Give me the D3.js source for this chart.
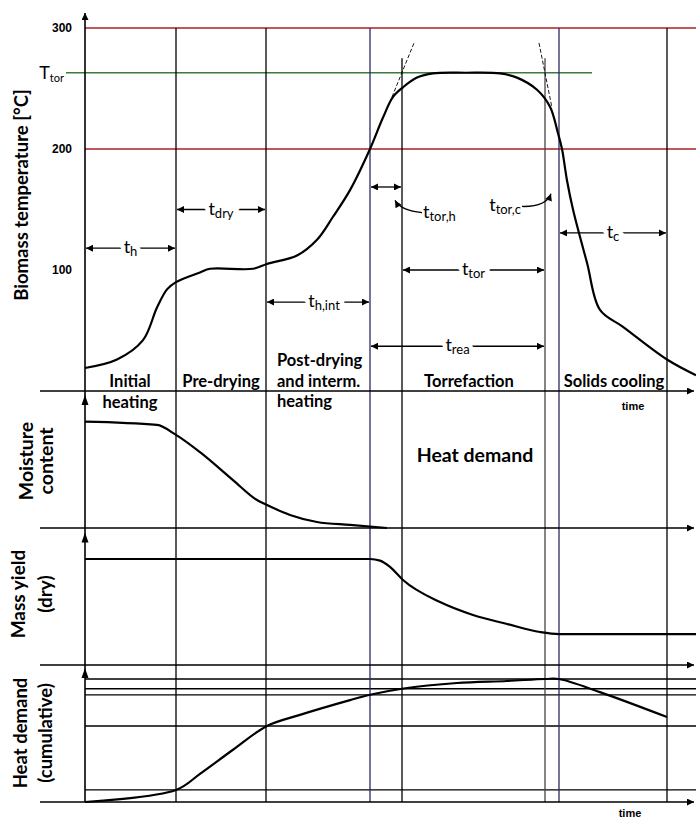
<!DOCTYPE html>
<html>
<head>
<meta charset="utf-8">
<script src="https://cdn.jsdelivr.net/npm/d3@7"></script>
<style>
body { margin: 0; background: #fff; }
text { font-family: Lato, "Open Sans", sans-serif; }
</style>
</head>
<body>
<script>
var width = 696, height = 820;

// process time, arbitrary units
var phaseBounds = [91, 181, 285, 317, 460, 474, 582];
var phaseNames = [
  {t: 45, lines: ["Initial", "heating"]},
  {t: 136, lines: ["Pre-drying"]},
  {t: 192, lines: ["Post-drying", "and interm.", "heating"], left: true},
  {t: 384, lines: ["Torrefaction"]},
  {t: 529, lines: ["Solids cooling"]}
];

// biomass temperature [°C]
var tempTime  = [0, 32, 58, 72, 82, 91, 115, 125, 168, 182, 212, 232, 248, 265, 285, 298, 308, 318, 332, 348, 381, 415, 432, 452, 465, 473, 477, 482, 488, 502, 515, 538, 582, 611];
var tempValue = [19, 26, 42, 69, 84, 90, 98, 101, 101, 105, 112, 125, 144, 166, 200, 226, 243, 251, 259, 262.5, 263, 262.5, 259, 249, 235, 213, 200, 174, 150, 106, 67, 53, 26, 13];
var tempTicks = [100, 200, 300];
var tempLimits = [200, 300];
var tTor = 263;

// moisture content
var moistTime  = [0, 72, 91, 115, 148, 172, 182, 205, 232, 265, 302];
var moistValue = [80, 77.5, 70, 57, 36, 21, 17.3, 9.8, 4.5, 2.3, 0];

// mass yield (dry)
var yieldTime  = [0, 285, 295, 305, 318, 355, 388, 422, 455, 474, 611];
var yieldValue = [100, 100, 98.5, 92.5, 80.2, 59.4, 47.2, 38.7, 31.1, 29.2, 29.2];

// heat demand (cumulative)
var heatTime  = [0, 91, 115, 148, 182, 215, 265, 285, 317, 372, 422, 460, 474, 515, 582];
var heatValue = [0, 9, 21, 39, 56.7, 65, 76, 80, 84.5, 88.8, 90.3, 91.8, 91.8, 82, 63.4];
var heatLevels = [91.8, 84.5, 80, 56.7, 9];

// time spans marked on the temperature panel
var spans = [
  {sub: "h", from: 0, to: 91, level: 118},
  {sub: "dry", from: 91, to: 181, level: 150},
  {sub: "h,int", from: 181, to: 285, level: 73.5},
  {sub: "tor,h", from: 285, to: 317, level: 168.6, bare: true},
  {sub: "c", from: 474, to: 582, level: 130.6},
  {sub: "tor", from: 317, to: 460, level: 100},
  {sub: "rea", from: 285, to: 460, level: 37}
];

var x = d3.scaleLinear().domain([0, 611]).range([85, 696]);
var yT = d3.scaleLinear().domain([0, 300]).range([391, 28]);
var yM = d3.scaleLinear().domain([0, 100]).range([528, 395]);
var yY = d3.scaleLinear().domain([0, 125]).range([665, 532.5]);
var yH = d3.scaleLinear().domain([0, 100]).range([802, 668]);

var svg = d3.select("body").append("svg")
  .attr("width", width).attr("height", height);

svg.append("rect").attr("width", width).attr("height", height).attr("fill", "white");

var defs = svg.append("defs");
defs.append("marker").attr("id", "ah")
  .attr("viewBox", "0 0 10 10").attr("refX", 10).attr("refY", 5)
  .attr("markerUnits", "userSpaceOnUse")
  .attr("markerWidth", 10).attr("markerHeight", 7)
  .attr("orient", "auto-start-reverse")
  .append("path").attr("d", "M0,0L10,5L0,10z").attr("fill", "#000");

// temperature limits and T_tor
svg.selectAll(".lim").data(tempLimits).enter().append("line")
  .attr("x1", x(0)).attr("x2", width)
  .attr("y1", function(d){ return yT(d); }).attr("y2", function(d){ return yT(d); })
  .attr("stroke", "#a8202a").attr("stroke-width", 1.4);
svg.append("line")
  .attr("x1", 66).attr("x2", x(507))
  .attr("y1", yT(tTor)).attr("y2", yT(tTor))
  .attr("stroke", "#3d7a3d").attr("stroke-width", 1.4);

// heat demand levels
svg.selectAll(".hl").data(heatLevels).enter().append("line")
  .attr("x1", x(0)).attr("x2", width)
  .attr("y1", function(d){ return yH(d); }).attr("y2", function(d){ return yH(d); })
  .attr("stroke", "#000").attr("stroke-width", 1.3);

// phase boundaries
svg.selectAll(".pb").data(phaseBounds).enter().append("line")
  .attr("x1", function(d){ return x(d); }).attr("x2", function(d){ return x(d); })
  .attr("y1", function(d, i){ return (i == 3 || i == 4) ? yT(275) : yT(300); })
  .attr("y2", yH(0))
  .attr("stroke", function(d, i){ return (i == 2 || i == 5) ? "#2a2a66" : (i == 4 ? "#444" : "#000"); })
  .attr("stroke-width", 1.3);

// panel baselines with arrows
[yT(0), yM(0), yY(0), yH(0)].forEach(function(yb){
  svg.append("line").attr("x1", 40).attr("x2", width - 2)
    .attr("y1", yb).attr("y2", yb)
    .attr("stroke", "#000").attr("stroke-width", 1.4)
    .attr("marker-end", "url(#ah)");
});
// vertical axis
svg.append("line").attr("x1", x(0)).attr("x2", x(0))
  .attr("y1", yH(0)).attr("y2", 13)
  .attr("stroke", "#000").attr("stroke-width", 1.6)
  .attr("marker-end", "url(#ah)");
[yM(100), yY(125), yH(100)].forEach(function(yt){
  svg.append("path")
    .attr("d", "M" + (x(0) - 3.5) + "," + (yt + 10) + "L" + x(0) + "," + yt + "L" + (x(0) + 3.5) + "," + (yt + 10) + "z")
    .attr("fill", "#000");
});

// tick labels
var ax = svg.append("g").attr("transform", "translate(" + x(0) + ",0)")
  .call(d3.axisLeft(yT).tickValues(tempTicks).tickSize(0).tickPadding(13));
ax.select(".domain").remove();
ax.selectAll("text")
  .style("font-family", "'Liberation Sans Narrow', 'Liberation Sans', sans-serif")
  .style("font-weight", "bold").style("font-size", "12px");

var tt = svg.append("text").attr("x", 64).attr("y", yT(tTor) + 6)
  .attr("text-anchor", "end").style("font-size", "18px");
tt.append("tspan").text("T");
tt.append("tspan").attr("dy", 3).style("font-size", "11px").text("tor");

// curves
function curve(xs, ys, sy, kind){
  return d3.line().curve(kind)
    .x(function(d){ return x(xs[d]); })
    .y(function(d){ return sy(ys[d]); })(d3.range(xs.length));
}
var smooth = d3.curveCatmullRom.alpha(0.5), mono = d3.curveMonotoneX;
[[tempTime, tempValue, yT, smooth], [moistTime, moistValue, yM, mono],
 [yieldTime, yieldValue, yY, mono], [heatTime, heatValue, yH, smooth]].forEach(function(c){
  svg.append("path").attr("d", curve(c[0], c[1], c[2], c[3]))
    .attr("fill", "none").attr("stroke", "#000").attr("stroke-width", 2.2);
});

// tangent lines at the torrefaction temperature
[[307, 243, 329, 287.6], [454, 287.6, 467, 234]].forEach(function(l){
  svg.append("line")
    .attr("x1", x(l[0])).attr("y1", yT(l[1])).attr("x2", x(l[2])).attr("y2", yT(l[3]))
    .attr("stroke", "#000").attr("stroke-width", 0.9).attr("stroke-dasharray", "4,2");
});

// t-label: big "t" with a subscript, optionally masked by a white halo
function tLabel(px, py, sub, anchor, halo){
  var layers = halo ? [true, false] : [false];
  layers.forEach(function(isHalo){
    var t = svg.append("text").attr("x", px).attr("y", py)
      .attr("text-anchor", anchor).style("font-size", "18px");
    if (isHalo) t.attr("fill", "white").attr("stroke", "white").attr("stroke-width", 9);
    t.append("tspan").text("t");
    t.append("tspan").attr("dy", 3).style("font-size", "13px").text(sub);
  });
}

// span arrows
spans.forEach(function(s){
  var yy = yT(s.level);
  svg.append("line")
    .attr("x1", x(s.from) + 1).attr("x2", x(s.to) - 1)
    .attr("y1", yy).attr("y2", yy)
    .attr("stroke", "#000").attr("stroke-width", 1.3)
    .attr("marker-start", "url(#ah)").attr("marker-end", "url(#ah)");
  if (s.bare) return;
  tLabel(x((s.from + s.to) / 2) + (s.sub == "h,int" ? 6 : 0), yy + 5, s.sub, "middle", true);
});

// labels with curved leaders
function leader(pts){
  var p = pts.map(function(d){ return [x(d[0]), yT(d[1])]; });
  svg.append("path")
    .attr("d", "M" + p[0] + "Q" + p[1] + " " + p[2])
    .attr("fill", "none").attr("stroke", "#000").attr("stroke-width", 1.3)
    .attr("marker-end", "url(#ah)");
}
leader([[337, 147.5], [316, 149], [310, 157.5]]);
leader([[437, 152.5], [461, 152], [466, 163]]);
tLabel(x(338), yT(147.5) + 5, "tor,h", "start", false);
tLabel(x(436), yT(152.5) + 5, "tor,c", "end", false);

// phase names
phaseNames.forEach(function(p){
  var y0 = p.lines.length == 3 ? 366 : 387;
  p.lines.forEach(function(s, i){
    svg.append("text")
      .attr("x", x(p.t))
      .attr("y", y0 + i * 20.5)
      .attr("text-anchor", p.left ? "start" : "middle")
      .style("font-weight", "bold").style("font-size", "16.5px")
      .text(s);
  });
});

svg.append("text").attr("x", x(390)).attr("y", 462).attr("text-anchor", "middle")
  .style("font-weight", "bold").style("font-size", "19.5px").text("Heat demand");

[[548, 410], [545, 817]].forEach(function(p){
  svg.append("text").attr("x", x(p[0])).attr("y", p[1]).attr("text-anchor", "middle")
    .style("font-family", "'Liberation Sans Narrow', 'Liberation Sans', sans-serif")
    .style("font-weight", "bold").style("font-size", "11px").text("time");
});

// axis titles
var titles = [
  {lines: ["Biomass temperature [°C]"], cy: 195, bx: [28], size: 18.5},
  {lines: ["Moisture", "content"], cy: 461, bx: [33, 53], size: 19.5},
  {lines: ["Mass yield", "(dry)"], cy: 594, bx: [25, 52], size: 19},
  {lines: ["Heat demand", "(cumulative)"], cy: 733, bx: [27, 52], size: 18.5}
];
titles.forEach(function(t){
  t.lines.forEach(function(s, i){
    svg.append("text")
      .attr("transform", "translate(" + t.bx[i] + "," + t.cy + ") rotate(-90)")
      .attr("text-anchor", "middle")
      .style("font-weight", "bold").style("font-size", t.size + "px")
      .text(s);
  });
});
</script>
</body>
</html>
